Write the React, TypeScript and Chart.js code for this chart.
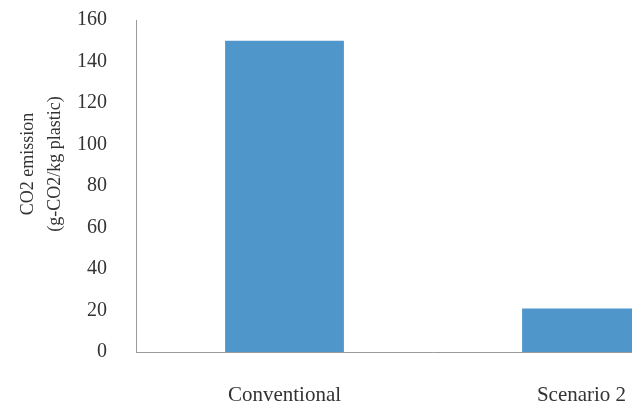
import React, { useEffect, useRef } from "react";
import { Chart, registerables } from "chart.js";

Chart.register(...registerables);

const categories = ["Conventional", "Scenario 2"];
const emissions = [150, 21];
const yTitleLines = ["CO2 emission", "(g-CO2/kg plastic)"];
const yMin = 0;
const yMax = 160;
const yStep = 20;

const yTitlePlugin = {
  id: "yTitlePlugin",
  afterDraw(chart: any) {
    const { ctx, chartArea } = chart;
    const cy = chartArea.top + (chartArea.bottom - chartArea.top) * 0.434;
    const xs = [chartArea.left - 108, chartArea.left - 81];
    ctx.save();
    ctx.fillStyle = "#333333";
    ctx.font = "18px 'Liberation Serif', serif";
    ctx.textAlign = "center";
    ctx.textBaseline = "middle";
    yTitleLines.forEach((line, i) => {
      ctx.save();
      ctx.translate(xs[i], cy);
      ctx.rotate(-Math.PI / 2);
      ctx.fillText(line, 0, 0);
      ctx.restore();
    });
    ctx.restore();
  },
};

export default function App() {
  const ref = useRef<HTMLCanvasElement | null>(null);
  useEffect(() => {
    if (!ref.current) return;
    const chart = new Chart(ref.current, {
      type: "bar",
      data: {
        labels: categories,
        datasets: [
          {
            data: emissions,
            backgroundColor: "#4F96CA",
            borderWidth: 0,
            categoryPercentage: 1,
            barPercentage: 0.4,
          },
        ],
      },
      options: {
        animation: false,
        responsive: false,
        layout: {
          autoPadding: false,
          padding: { left: 70, right: 10, top: 20, bottom: 13 },
        },
        plugins: { legend: { display: false }, tooltip: { enabled: false } },
        scales: {
          x: {
            afterFit: (scale: any) => {
              scale.height = 55;
              scale.paddingLeft = 0;
              scale.paddingRight = 0;
            },
            grid: { display: false, drawTicks: false },
            border: { display: true, color: "#9A9A9A", width: 1 },
            ticks: {
              color: "#333333",
              padding: 31,
              font: { family: "'Liberation Serif', serif", size: 21 },
            },
          },
          y: {
            min: yMin,
            max: yMax,
            afterFit: (scale: any) => {
              scale.width = 66;
              scale.paddingTop = 12;
              scale.paddingBottom = 12;
            },
            grid: { display: false, drawTicks: false },
            border: { display: true, color: "#9A9A9A", width: 1 },
            ticks: {
              stepSize: yStep,
              color: "#333333",
              padding: 29,
              font: { family: "'Liberation Serif', serif", size: 20 },
            },
          },
        },
      },
      plugins: [yTitlePlugin],
    });
    return () => chart.destroy();
  }, []);

  return (
    <div
      style={{
        position: "fixed",
        left: 0,
        top: 0,
        width: 632,
        height: 406,
        overflow: "hidden",
        background: "#ffffff",
      }}
    >
      <canvas
        ref={ref}
        width={740}
        height={420}
        style={{ display: "block", width: 740, height: 420 }}
      />
    </div>
  );
}
